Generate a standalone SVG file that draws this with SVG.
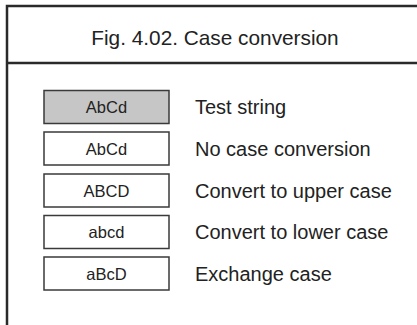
<svg xmlns="http://www.w3.org/2000/svg" width="417" height="325" viewBox="0 0 417 325">
<style>
.frame{fill:none;stroke:#2a2a2a;stroke-width:2.5}
.box{fill:#fff;stroke:#3a3a3a;stroke-width:1.5}
.box.shade{fill:#c6c6c6}
.bt{font-family:"Liberation Sans",Arial,sans-serif;font-size:16.5px;fill:#222;text-anchor:middle}
.lbl{font-family:"Liberation Sans",Arial,sans-serif;font-size:20px;fill:#222}
.title{font-family:"Liberation Sans",Arial,sans-serif;font-size:20.8px;fill:#222;text-anchor:middle}
</style>
<rect width="417" height="325" fill="#fff"/>
<g id="frame">
<rect class="frame" x="7" y="6" width="420" height="330"/>
<line class="frame" x1="7" y1="63" x2="417" y2="63"/>
<text class="title" x="215" y="45">Fig. 4.02. Case conversion</text>
</g>
<g id="row1">
<rect class="box shade" x="44" y="90.5" width="125" height="33"/>
<text class="bt" x="106.5" y="113">AbCd</text>
<text class="lbl" x="195" y="114">Test string</text>
</g>
<g id="row2">
<rect class="box" x="44" y="132" width="125" height="33"/>
<text class="bt" x="106.5" y="154.5">AbCd</text>
<text class="lbl" x="195" y="155.5">No case conversion</text>
</g>
<g id="row3">
<rect class="box" x="44" y="174" width="125" height="33"/>
<text class="bt" x="106.5" y="196.5">ABCD</text>
<text class="lbl" x="195" y="197.5">Convert to upper case</text>
</g>
<g id="row4">
<rect class="box" x="44" y="215.5" width="125" height="33"/>
<text class="bt" x="106.5" y="238">abcd</text>
<text class="lbl" x="195" y="239">Convert to lower case</text>
</g>
<g id="row5">
<rect class="box" x="44" y="257" width="125" height="33"/>
<text class="bt" x="106.5" y="279.5">aBcD</text>
<text class="lbl" x="195" y="280.5">Exchange case</text>
</g>
<g id="connectors"/>
</svg>
